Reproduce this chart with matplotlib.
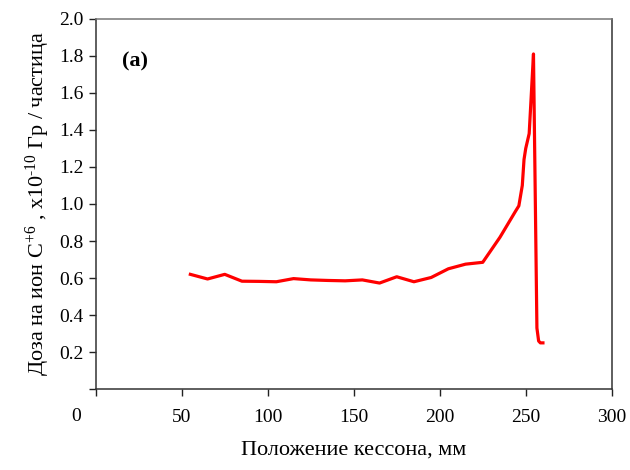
import matplotlib
matplotlib.use("Agg")
import matplotlib.pyplot as plt

plt.rcParams['font.family'] = ['Liberation Serif', 'DejaVu Serif']
plt.rcParams['mathtext.fontset'] = 'custom'
plt.rcParams['mathtext.rm'] = 'Liberation Serif'
plt.rcParams['mathtext.it'] = 'Liberation Serif:italic'

# положение кессона, мм / доза
position = [55, 65, 75, 85, 95, 105, 115, 125, 135, 145, 155, 165, 175, 185,
            195, 205, 215, 225, 235, 244, 246, 248, 249, 250, 252, 253, 254.5,
            256.5, 257.5, 258.5, 260]
dose = [0.62, 0.595, 0.62, 0.583, 0.582, 0.58, 0.597, 0.59, 0.587, 0.585,
        0.59, 0.573, 0.607, 0.58, 0.603, 0.65, 0.675, 0.685, 0.82, 0.96,
        0.99, 1.10, 1.24, 1.30, 1.38, 1.55, 1.81, 0.33, 0.26, 0.25, 0.25]

xticks = [0, 50, 100, 150, 200, 250, 300]
yticks = [0.0, 0.2, 0.4, 0.6, 0.8, 1.0, 1.2, 1.4, 1.6, 1.8, 2.0]

fig = plt.figure(figsize=(6.3, 4.7), dpi=100)
ax = fig.add_axes([0.152, 0.172, 0.819, 0.788])

ax.plot(position, dose, color='#ff0000', linewidth=2.3, solid_joinstyle='round')

ax.set_xlim(0, 300)
ax.set_ylim(0, 2.0)
ax.set_xticks(xticks)
ax.set_yticks(yticks)
ax.set_xticklabels([''] + [str(t) for t in xticks[1:]])
ax.set_yticklabels([''] + [f'{t:.1f}' for t in yticks[1:]])
# the "0" label sits left of the axis corner
ax.text(-0.038, -0.075, '0', transform=ax.transAxes, fontsize=14,
        ha='center', va='center')

ax.tick_params(direction='out', length=5, width=1, labelsize=14, colors='#222222',
               labelcolor='black', pad=9)
ax.tick_params(axis='y', pad=4)
for side in ['left', 'bottom', 'right']:
    ax.spines[side].set_color('#333333')
    ax.spines[side].set_linewidth(1.1)
ax.spines['top'].set_color('#777777')
ax.spines['top'].set_linewidth(1.1)

ax.set_xlabel('Положение кессона, мм', fontsize=16, labelpad=11)
ax.set_ylabel('Доза на ион C$^{+6}$ , x10$^{\u201010}$ Гр / частица', fontsize=16, labelpad=5)

ax.text(0.05, 0.885, '(a)', transform=ax.transAxes, fontsize=16,
        fontweight='bold', va='center')

fig.savefig('out.png', dpi=100)
